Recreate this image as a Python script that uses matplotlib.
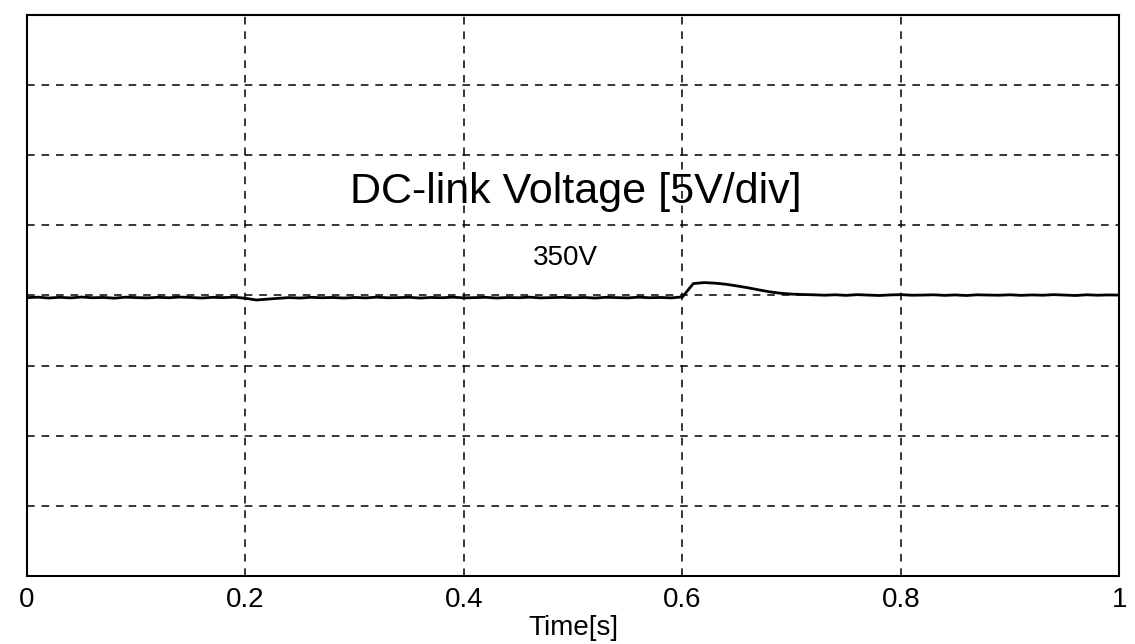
import numpy as np
import matplotlib.pyplot as plt

time_s = np.round(np.arange(0, 1.001, 0.01), 2)
voltage = [
    349.85, 349.88, 349.82, 349.87, 349.83, 349.89, 349.84, 349.86, 349.81, 349.88,
    349.85, 349.83, 349.87, 349.84, 349.89, 349.86, 349.82, 349.87, 349.85, 349.88,
    349.80, 349.68, 349.74, 349.80, 349.85, 349.82, 349.87, 349.84, 349.86, 349.82,
    349.86, 349.83, 349.88, 349.84, 349.85, 349.87, 349.82, 349.86, 349.84, 349.88,
    349.83, 349.85, 349.87, 349.82, 349.86, 349.84, 349.88, 349.83, 349.85, 349.87,
    349.84, 349.86, 349.82, 349.87, 349.85, 349.83, 349.88, 349.84, 349.86, 349.83,
    349.90, 350.85, 350.92, 350.88, 350.80, 350.68, 350.55, 350.40, 350.26, 350.16,
    350.10, 350.07, 350.05, 350.02, 350.05, 350.01, 350.06, 350.03, 350.00, 350.04,
    350.06, 350.02, 350.03, 350.05, 350.01, 350.04, 350.00, 350.05, 350.03, 350.02,
    350.05, 350.01, 350.04, 350.02, 350.06, 350.03, 350.00, 350.05, 350.02, 350.04,
    350.03,
]
x_ticks = [0, 0.2, 0.4, 0.6, 0.8, 1]
x_tick_labels = ["0", "0.2", "0.4", "0.6", "0.8", "1"]
v_center = 350
v_per_div = 5

plt.rcParams['font.family'] = ['Liberation Sans', 'DejaVu Sans']

fig = plt.figure(figsize=(11.35, 6.44), dpi=100)
ax = fig.add_axes([0.0238, 0.1056, 0.9624, 0.8711])

ax.plot(time_s, voltage, color="black", lw=2.0)

ax.set_xlim(0, 1)
ax.set_ylim(v_center - 4 * v_per_div, v_center + 4 * v_per_div)
ax.set_xticks(x_ticks)
ax.set_xticklabels(x_tick_labels, fontsize=20)
ax.set_yticks(np.arange(v_center - 4 * v_per_div, v_center + 4 * v_per_div + 1, v_per_div))
ax.set_yticklabels([])
ax.tick_params(length=0, pad=8)
ax.grid(True, color="black", linestyle=(0, (5, 4.5)), lw=1.1)
for s in ax.spines.values():
    s.set_linewidth(1.5)

ax.set_xlabel("Time[s]", fontsize=20, labelpad=1.5)
ax.text(0.5025, 357.36, "DC-link Voltage [5V/div]", fontsize=31,
        ha="center", va="center")
ax.text(0.493, 352.64, "350V", fontsize=20, ha="center", va="center")

fig.savefig("out.png", dpi=100)
